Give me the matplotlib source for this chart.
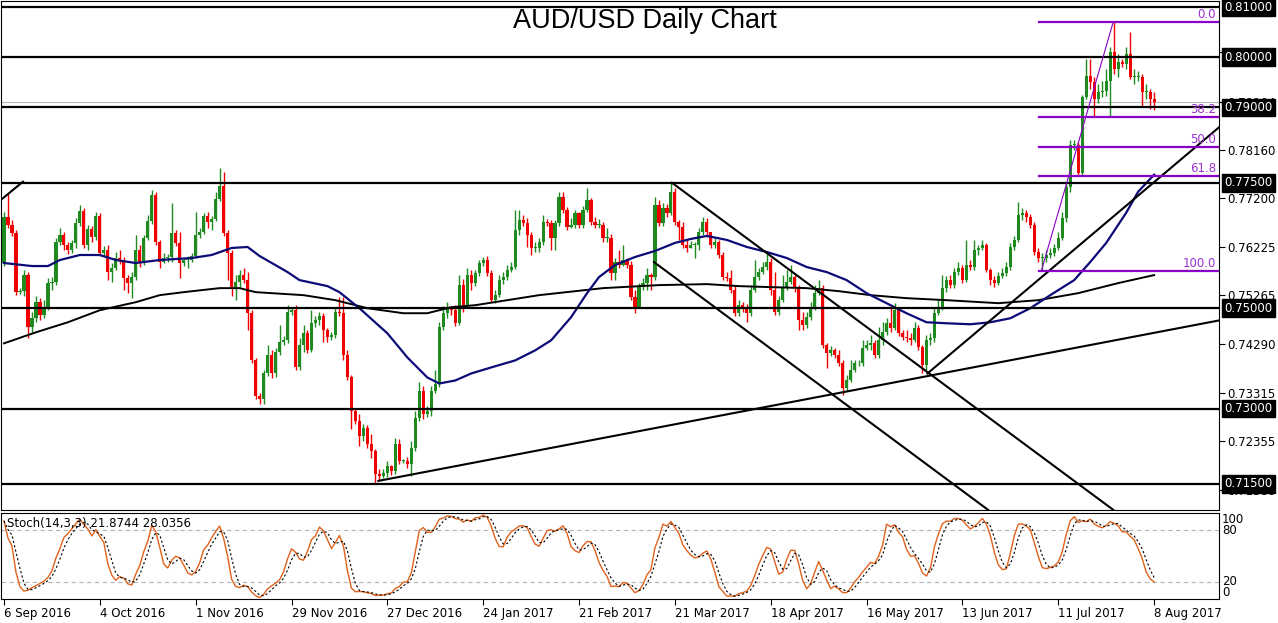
import numpy as np
import pandas as pd
import matplotlib
matplotlib.use("Agg")
import matplotlib.pyplot as plt
import matplotlib.transforms as mtransforms

# daily AUD/USD bars, prices in pips (x 0.0001)
first_open = 7590
closes_pips = [
    7682, 7666, 7650, 7532, 7534, 7566, 7462, 7480, 7512, 7486,
    7502, 7550, 7552, 7632, 7646, 7626, 7616, 7630, 7670, 7694,
    7626, 7658, 7642, 7684, 7610, 7616, 7572, 7580, 7600, 7596,
    7560, 7550, 7562, 7616, 7592, 7640, 7674, 7726, 7632, 7592,
    7600, 7602, 7650, 7630, 7590, 7596, 7596, 7604, 7646, 7652,
    7684, 7672, 7678, 7718, 7744, 7650, 7610, 7542, 7552, 7566,
    7556, 7490, 7396, 7326, 7320, 7370, 7406, 7370, 7412, 7432,
    7436, 7492, 7496, 7382, 7426, 7450, 7416, 7470, 7476, 7484,
    7456, 7442, 7446, 7492, 7490, 7406, 7362, 7296, 7276, 7246,
    7262, 7230, 7216, 7170, 7166, 7172, 7186, 7176, 7230, 7196,
    7196, 7190, 7222, 7282, 7336, 7290, 7296, 7336, 7350, 7462,
    7490, 7502, 7496, 7470, 7546, 7506, 7566, 7550, 7570, 7590,
    7596, 7570, 7516, 7526, 7556, 7562, 7576, 7582, 7656, 7676,
    7670, 7646, 7620, 7620, 7632, 7672, 7670, 7640, 7670, 7722,
    7696, 7662, 7666, 7690, 7666, 7696, 7716, 7672, 7666, 7666,
    7640, 7640, 7570, 7592, 7586, 7596, 7586, 7522, 7502, 7542,
    7550, 7566, 7562, 7706, 7670, 7700, 7690, 7732, 7672, 7662,
    7626, 7620, 7626, 7626, 7652, 7672, 7652, 7626, 7632, 7606,
    7562, 7560, 7536, 7490, 7506, 7500, 7490, 7536, 7562, 7572,
    7582, 7592, 7536, 7492, 7516, 7540, 7552, 7562, 7540, 7476,
    7466, 7482, 7502, 7530, 7540, 7426, 7410, 7416, 7406, 7390,
    7342, 7356, 7376, 7390, 7390, 7420, 7426, 7430, 7406, 7436,
    7452, 7470, 7460, 7496, 7450, 7442, 7440, 7436, 7460, 7422,
    7386, 7436, 7440, 7490, 7502, 7540, 7556, 7546, 7572, 7580,
    7556, 7586, 7582, 7616, 7620, 7626, 7576, 7556, 7550, 7564,
    7570, 7582, 7622, 7636, 7686, 7690, 7682, 7666, 7612, 7600,
    7600, 7606, 7610, 7620, 7640, 7680, 7742, 7826, 7826, 7770,
    7920, 7962, 7950, 7916, 7930, 7932, 7952, 8010, 7976, 7990,
    7986, 8006, 7960, 7960, 7960, 7930, 7930, 7916, 7910,
]
highs_pips = [
    7692, 7730, 7676, 7656, 7540, 7576, 7572, 7492, 7524, 7520,
    7516, 7560, 7562, 7640, 7660, 7652, 7632, 7636, 7680, 7706,
    7700, 7666, 7664, 7692, 7690, 7624, 7626, 7590, 7612, 7616,
    7602, 7566, 7572, 7646, 7626, 7646, 7686, 7736, 7732, 7636,
    7610, 7608, 7710, 7656, 7652, 7600, 7604, 7610, 7692, 7660,
    7690, 7692, 7684, 7732, 7780, 7772, 7656, 7616, 7566, 7576,
    7580, 7572, 7496, 7400, 7332, 7376, 7426, 7416, 7420, 7466,
    7444, 7506, 7500, 7506, 7440, 7466, 7456, 7496, 7484, 7492,
    7490, 7460, 7452, 7502, 7522, 7522, 7416, 7366, 7300, 7290,
    7270, 7268, 7250, 7220, 7180, 7180, 7196, 7188, 7242, 7240,
    7200, 7204, 7236, 7296, 7352, 7346, 7306, 7346, 7376, 7472,
    7504, 7512, 7504, 7506, 7566, 7558, 7580, 7576, 7576, 7596,
    7602, 7604, 7576, 7536, 7566, 7572, 7586, 7592, 7696, 7696,
    7686, 7680, 7652, 7632, 7640, 7686, 7678, 7676, 7676, 7732,
    7732, 7702, 7680, 7696, 7692, 7704, 7740, 7720, 7682, 7678,
    7672, 7660, 7648, 7600, 7616, 7626, 7600, 7594, 7536, 7550,
    7560, 7580, 7570, 7722, 7716, 7710, 7708, 7750, 7740, 7676,
    7672, 7636, 7634, 7632, 7660, 7682, 7680, 7646, 7640, 7636,
    7612, 7572, 7576, 7546, 7516, 7512, 7508, 7546, 7596, 7580,
    7592, 7612, 7600, 7572, 7524, 7566, 7576, 7586, 7566, 7546,
    7492, 7492, 7512, 7546, 7556, 7546, 7430, 7424, 7420, 7416,
    7396, 7366, 7396, 7396, 7396, 7436, 7436, 7446, 7436, 7462,
    7472, 7480, 7506, 7510, 7502, 7456, 7456, 7450, 7472, 7466,
    7426, 7446, 7450, 7500, 7516, 7566, 7564, 7566, 7580, 7592,
    7586, 7636, 7596, 7636, 7626, 7636, 7630, 7580, 7564, 7572,
    7580, 7592, 7630, 7644, 7712, 7700, 7696, 7688, 7672, 7620,
    7610, 7616, 7620, 7628, 7652, 7692, 7752, 7836, 7836, 7832,
    7924, 7996, 7996, 7960, 7946, 7952, 7976, 8020, 8070, 8006,
    7996, 8020, 8050, 7976, 7972, 7966, 7946, 7936, 7930,
]
lows_pips = [
    7584, 7660, 7644, 7526, 7528, 7524, 7440, 7452, 7472, 7476,
    7480, 7496, 7536, 7546, 7626, 7616, 7608, 7610, 7620, 7664,
    7620, 7616, 7632, 7636, 7604, 7604, 7556, 7552, 7576, 7588,
    7536, 7530, 7520, 7556, 7582, 7586, 7636, 7668, 7626, 7580,
    7590, 7592, 7592, 7624, 7560, 7584, 7580, 7592, 7600, 7640,
    7648, 7660, 7656, 7674, 7714, 7644, 7556, 7524, 7516, 7542,
    7550, 7456, 7390, 7320, 7310, 7310, 7364, 7360, 7362, 7406,
    7426, 7430, 7486, 7376, 7376, 7412, 7410, 7412, 7462, 7466,
    7432, 7432, 7436, 7440, 7484, 7396, 7356, 7260, 7270, 7226,
    7236, 7222, 7202, 7152, 7158, 7162, 7164, 7168, 7170, 7190,
    7192, 7182, 7166, 7216, 7276, 7280, 7284, 7286, 7332, 7344,
    7456, 7480, 7486, 7464, 7466, 7492, 7500, 7536, 7544, 7564,
    7584, 7564, 7512, 7510, 7522, 7548, 7556, 7572, 7578, 7646,
    7664, 7622, 7606, 7612, 7612, 7626, 7664, 7616, 7616, 7664,
    7690, 7656, 7660, 7660, 7660, 7660, 7692, 7666, 7660, 7660,
    7632, 7632, 7556, 7556, 7580, 7584, 7580, 7516, 7490, 7500,
    7536, 7536, 7536, 7556, 7664, 7664, 7682, 7686, 7666, 7636,
    7620, 7612, 7620, 7600, 7616, 7646, 7642, 7620, 7620, 7600,
    7556, 7554, 7530, 7484, 7484, 7492, 7472, 7484, 7532, 7556,
    7568, 7576, 7526, 7486, 7486, 7512, 7536, 7548, 7532, 7456,
    7456, 7460, 7476, 7496, 7526, 7420, 7380, 7404, 7400, 7384,
    7328, 7336, 7352, 7372, 7384, 7384, 7416, 7416, 7400, 7400,
    7426, 7446, 7452, 7456, 7444, 7436, 7432, 7426, 7432, 7416,
    7370, 7376, 7426, 7432, 7486, 7496, 7532, 7540, 7540, 7566,
    7550, 7552, 7576, 7576, 7606, 7616, 7572, 7546, 7542, 7546,
    7560, 7564, 7576, 7616, 7632, 7676, 7672, 7660, 7606, 7592,
    7576, 7592, 7600, 7604, 7616, 7636, 7672, 7732, 7816, 7764,
    7766, 7916, 7936, 7880, 7908, 7920, 7922, 7882, 7966, 7960,
    7980, 7976, 7956, 7946, 7952, 7900, 7916, 7896, 7894,
]

date_ticks = [0, 24, 48, 72, 96, 120, 144, 168, 192, 216, 240, 264, 288]
date_labels = ["6 Sep 2016", "4 Oct 2016", "1 Nov 2016", "29 Nov 2016",
               "27 Dec 2016", "24 Jan 2017", "21 Feb 2017", "21 Mar 2017",
               "18 Apr 2017", "16 May 2017", "13 Jun 2017", "11 Jul 2017",
               "8 Aug 2017"]

# moving averages as drawn on the chart (bar index, pips)
ma50_bars = [0, 7, 11, 14, 19, 24, 28, 33, 39, 47, 52, 57, 61, 64, 71, 74, 81, 84, 89, 96,
             101, 106, 109, 113, 117, 122, 128, 133, 137, 142, 146, 149, 153, 158, 163, 168,
             172, 176, 181, 186, 191, 196, 201, 206, 211, 216, 221, 226, 231, 236, 242, 247,
             252, 257, 262, 268, 272, 276, 281, 284, 288]
ma50_pips = [7590, 7584, 7584, 7596, 7606, 7606, 7596, 7590, 7596, 7600, 7606, 7620, 7622,
             7604, 7572, 7556, 7544, 7532, 7500, 7450, 7402, 7362, 7350, 7356, 7370, 7382,
             7396, 7416, 7436, 7482, 7530, 7562, 7586, 7602, 7614, 7630, 7638, 7644, 7636,
             7622, 7612, 7600, 7582, 7572, 7556, 7530, 7510, 7490, 7472, 7470, 7468, 7472,
             7480, 7500, 7526, 7556, 7592, 7630, 7690, 7732, 7766]
ma200_bars = [0, 8, 16, 24, 33, 39, 45, 54, 59, 63, 75, 83, 91, 100, 106, 112, 118, 134, 150,
              164, 176, 184, 192, 201, 209, 217, 226, 236, 249, 259, 269, 279, 288]
ma200_pips = [7430, 7452, 7472, 7496, 7512, 7526, 7532, 7540, 7540, 7532, 7526, 7516, 7500,
              7490, 7490, 7502, 7506, 7526, 7540, 7546, 7548, 7544, 7542, 7540, 7534, 7526,
              7520, 7516, 7510, 7516, 7530, 7550, 7566]

key_levels = [0.8100, 0.8000, 0.7900, 0.7750, 0.7500, 0.7300, 0.7150]
grid_levels = [0.80110, 0.79104, 0.78160, 0.77200, 0.76225, 0.75265,
               0.74290, 0.73315, 0.72355, 0.71380]
last_price = 0.79104

# hand drawn trend lines: (bar, price) -> (bar, price)
trend_lines = [
    ((-0.75, 0.7716), (4.75, 0.7752)),
    ((93.75, 0.7156), (304.5, 0.7476)),
    ((167.25, 0.7750), (278.5, 0.7094)),
    ((162.75, 0.7592), (248.5, 0.7086)),
    ((231.25, 0.7370), (304.5, 0.7862)),
]
fib_start, fib_low = 259.75, 0.7574
fib_end, fib_high = 277.75, 0.8070
fib_ratios = [0.0, 38.2, 50.0, 61.8, 100.0]

close = np.array(closes_pips) / 1e4
high = np.array(highs_pips) / 1e4
low = np.array(lows_pips) / 1e4
opens = np.concatenate([[first_open / 1e4], close[:-1]])
bars = np.arange(len(close))

# stochastic 14,3,3
df = pd.DataFrame({"h": high, "l": low, "c": close})
hh = df.h.rolling(14, min_periods=1).max()
ll = df.l.rolling(14, min_periods=1).min()
k = 100 * (df.c - ll).rolling(3, min_periods=1).sum() / (hh - ll).rolling(3, min_periods=1).sum()
d = k.rolling(3, min_periods=1).mean()

W, H = 1278, 623
fig = plt.figure(figsize=(W / 100, H / 100), dpi=100)
ax = fig.add_axes([1 / W, (H - 510) / H, 1218 / W, 509 / H])
ax2 = fig.add_axes([1 / W, (H - 599) / H, 1218 / W, 86 / H])

green, red = "#1f8a1f", "#f00000"
up = close >= opens
cols = np.where(up, green, red)
ax.vlines(bars, low, high, colors=cols, lw=1, zorder=2)
body = np.maximum(np.abs(close - opens), 0.00018)
ax.bar(bars, body, bottom=np.minimum(close, opens), width=0.8, color=cols,
       linewidth=0, zorder=2.1)

ax.axhline(last_price, color="#b8b8b8", lw=0.8, zorder=1)
ax.plot(ma200_bars, np.array(ma200_pips) / 1e4, color="black", lw=1.4, zorder=3)
ax.plot(ma50_bars, np.array(ma50_pips) / 1e4, color="#0b0b78", lw=1.6, zorder=3)
for lvl in key_levels:
    ax.axhline(lvl, color="black", lw=1.6, zorder=4)
for (x0, y0), (x1, y1) in trend_lines:
    ax.plot([x0, x1], [y0, y1], color="black", lw=1.5, zorder=4)

purple = "#8a00c8"
for r in fib_ratios:
    lvl = fib_high - r / 100 * (fib_high - fib_low)
    ax.plot([fib_start - 0.5, 305], [lvl, lvl], color=purple, lw=1.6, zorder=4)
    ax.annotate("%.1f" % r, xy=(303.5, lvl), xytext=(0, 0.5), textcoords="offset points",
                ha="right", va="bottom", fontsize=8.5, color="#9b30d0", zorder=5)
ax.plot([fib_start, fib_end], [fib_low, fib_high], color=purple, lw=0.8, zorder=4)

ax.set_xlim(-0.75, 304.25)
ax.set_ylim(0.7098, 0.8112)
ax.set_xticks([])
ax.yaxis.tick_right()
ax.set_yticks(grid_levels)
ax.set_yticklabels(["%.5f" % v for v in grid_levels])
ax.tick_params(axis="y", length=4, pad=2, labelsize=8.5, direction="out")
trans = mtransforms.blended_transform_factory(ax.transAxes, ax.transData)
for lvl in key_levels:
    ax.text(1.0045, lvl, "%.5f" % lvl, transform=trans, color="white", fontsize=8.5,
            va="center", ha="left", clip_on=False, zorder=10,
            bbox=dict(boxstyle="square,pad=0.2", fc="black", ec="black"))

# stochastic panel
ax2.axhline(80, color="#b4b4b4", lw=0.8, ls=(0, (4, 3)))
ax2.axhline(20, color="#b4b4b4", lw=0.8, ls=(0, (4, 3)))
ax2.plot(bars, k, color="#e0621c", lw=1)
ax2.plot(bars, d, color="black", lw=0.8, ls=(0, (2, 2)))
ax2.set_xlim(-0.75, 304.25)
ax2.set_ylim(0, 100)
ax2.set_yticks([])
ax2.set_xticks(date_ticks)
ax2.set_xticklabels(date_labels)
ax2.tick_params(axis="x", length=4, pad=2, labelsize=8.5)
plt.setp(ax2.get_xticklabels(), ha="left")
trans2 = mtransforms.blended_transform_factory(ax2.transAxes, ax2.transData)
for val, va in [(100, "top"), (80, "center"), (20, "center"), (0, "bottom")]:
    ax2.text(1.0025, val, str(val), transform=trans2, fontsize=8.5, va=va, ha="left",
             clip_on=False)
ax2.text(0.005, 0.88, "Stoch(14,3,3) 21.8744 28.0356", transform=ax2.transAxes,
         fontsize=8.5, va="center")

fig.text(645 / W, 1 - 21 / H, "AUD/USD Daily Chart", ha="center", va="center",
         fontsize=19.5, family="Liberation Sans")

fig.savefig("out.png", dpi=100)
